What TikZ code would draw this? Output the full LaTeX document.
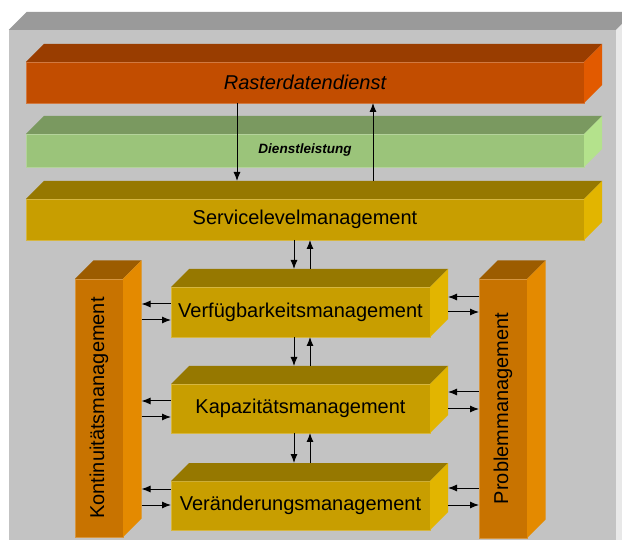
\documentclass[tikz,border=0pt]{standalone}
\usepackage{fontspec}
\setmainfont{Liberation Sans}
\usetikzlibrary{arrows.meta}

% face colours of the blocks
\definecolor{greyFront}{RGB}{195,195,195}
\definecolor{greyTop}{RGB}{154,154,154}
\definecolor{greySide}{RGB}{232,232,232}
\definecolor{rdFront}{RGB}{194,77,0}
\definecolor{rdTop}{RGB}{153,61,0}
\definecolor{rdSide}{RGB}{226,90,0}
\definecolor{dlFront}{RGB}{155,196,122}
\definecolor{dlTop}{RGB}{122,153,96}
\definecolor{dlSide}{RGB}{180,226,140}
\definecolor{mgFront}{RGB}{200,158,0}
\definecolor{mgTop}{RGB}{150,120,0}
\definecolor{mgSide}{RGB}{226,181,0}
\definecolor{plFront}{RGB}{200,115,0}
\definecolor{plTop}{RGB}{156,92,0}
\definecolor{plSide}{RGB}{228,138,0}

\tikzset{
  front/.style={rectangle, inner sep=0pt, outer sep=0pt, fill=#1,
    draw=#1!75!white, line width=0.5pt},
  bigtext/.style={font=\fontsize{20}{24}\selectfont},
  arr/.style={-{Latex[length=9pt,width=7pt]}, line width=1pt, black},
}

% top and side faces behind a front face node: node, depth, top colour, side colour
\newcommand\blockfaces[4]{%
  \fill[#3] (#1.north west) -- ++(#2,-#2) -- ([shift={(#2,-#2)}]#1.north east)
     -- (#1.north east) -- cycle;
  \fill[#4] (#1.north east) -- ++(#2,-#2) -- ([shift={(#2,-#2)}]#1.south east)
     -- (#1.south east) -- cycle;
}

\begin{document}
\begin{tikzpicture}[x=1pt,y=-1pt]
\useasboundingbox (0,0) rectangle (622,540);
\clip (0,0) rectangle (622,540);
\fill[white] (0,0) rectangle (622,540);

% grey frame
\node[rectangle, inner sep=0pt, fill=greyFront, minimum width=607pt, minimum height=520pt]
  (frame) at (312.5,290) {};
\blockfaces{frame}{18}{greyTop}{greySide}

% service layers
\node[front=rdFront, minimum width=558pt, minimum height=41pt, bigtext]
  (raster) at (305,82.5) {\itshape Rasterdatendienst};
\blockfaces{raster}{18}{rdTop}{rdSide}

\node[front=dlFront, minimum width=558pt, minimum height=33pt,
  font=\fontsize{13.5}{16}\selectfont\bfseries\itshape]
  (dienst) at (305,150.5) {Dienstleistung};
\blockfaces{dienst}{18}{dlTop}{dlSide}

\node[front=mgFront, minimum width=558pt, minimum height=41pt, bigtext]
  (service) at (305,219.5) {Servicelevelmanagement};
\blockfaces{service}{18}{mgTop}{mgSide}

% management blocks
\node[front=mgFront, minimum width=259pt, minimum height=50pt, bigtext]
  (verf) at (300.5,312) {Verfügbarkeitsmanagement};
\blockfaces{verf}{18}{mgTop}{mgSide}

\node[front=mgFront, minimum width=259pt, minimum height=49pt, bigtext]
  (kap) at (300.5,408.5) {Kapazitätsmanagement};
\blockfaces{kap}{18}{mgTop}{mgSide}

\node[front=mgFront, minimum width=259pt, minimum height=49pt, bigtext]
  (ver) at (300.5,505.5) {Veränderungsmanagement};
\blockfaces{ver}{18}{mgTop}{mgSide}

% side pillars
\node[front=plFront, minimum width=48pt, minimum height=258pt] (kont) at (99,408) {};
\blockfaces{kont}{18.5}{plTop}{plSide}
\node[bigtext, rotate=90] (konttext) at (kont.center) {Kontinuitätsmanagement};

\node[front=plFront, minimum width=48pt, minimum height=259pt] (prob) at (503,408.5) {};
\blockfaces{prob}{18.5}{plTop}{plSide}
\node[bigtext, rotate=90] (probtext) at (prob.center) {Problemmanagement};

\coordinate (kontR) at ([xshift=18.5pt]kont.east);

% vertical connectors
\draw[arr] ([xshift=-68pt]raster.south) -- ([xshift=-68pt,yshift=18pt]service.north);
\draw[arr] ([xshift=68pt,yshift=18pt]service.north) -- ([xshift=68pt]raster.south);

\draw[arr] ([xshift=-6.5pt]verf.north |- service.south) -- ([xshift=-6.5pt,yshift=18pt]verf.north);
\draw[arr] ([xshift=9.5pt,yshift=18pt]verf.north) -- ([xshift=9.5pt]verf.north |- service.south);

\draw[arr] ([xshift=-6.5pt]verf.south) -- ([xshift=-6.5pt,yshift=18pt]kap.north);
\draw[arr] ([xshift=9.5pt,yshift=18pt]kap.north) -- ([xshift=9.5pt]verf.south);

\draw[arr] ([xshift=-6.5pt]kap.south) -- ([xshift=-6.5pt,yshift=18pt]ver.north);
\draw[arr] ([xshift=9.5pt,yshift=18pt]ver.north) -- ([xshift=9.5pt]kap.south);

% horizontal connectors, left pillar
\draw[arr] ([yshift=8pt]verf.west) -- ([yshift=8pt]verf.west -| kontR);
\draw[arr] ([yshift=-8pt]verf.west -| kontR) -- ([yshift=-8pt]verf.west);
\draw[arr] ([yshift=7.5pt]kap.west) -- ([yshift=7.5pt]kap.west -| kontR);
\draw[arr] ([yshift=-8.5pt]kap.west -| kontR) -- ([yshift=-8.5pt]kap.west);
\draw[arr] ([yshift=16.5pt]ver.west) -- ([yshift=16.5pt]ver.west -| kontR);
\draw[arr] ([yshift=0.5pt]ver.west -| kontR) -- ([yshift=0.5pt]ver.west);

% horizontal connectors, right pillar
\draw[arr] ([yshift=15pt]verf.east -| prob.west) -- ([xshift=18pt,yshift=15pt]verf.east);
\draw[arr] ([xshift=18pt]verf.east) -- (verf.east -| prob.west);
\draw[arr] ([yshift=16.5pt]kap.east -| prob.west) -- ([xshift=18pt,yshift=16.5pt]kap.east);
\draw[arr] ([xshift=18pt,yshift=-0.5pt]kap.east) -- ([yshift=-0.5pt]kap.east -| prob.west);
\draw[arr] ([yshift=17.5pt]ver.east -| prob.west) -- ([xshift=18pt,yshift=17.5pt]ver.east);
\draw[arr] ([xshift=18pt,yshift=0.5pt]ver.east) -- ([yshift=0.5pt]ver.east -| prob.west);
\end{tikzpicture}
\end{document}
